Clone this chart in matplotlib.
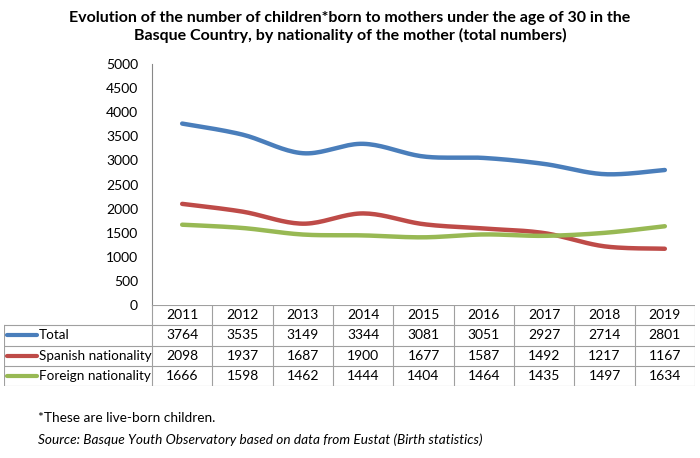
import numpy as np
import matplotlib.pyplot as plt

years = ['2011', '2012', '2013', '2014', '2015', '2016', '2017', '2018', '2019']
total = [3764, 3535, 3149, 3344, 3081, 3051, 2927, 2714, 2801]
spanish = [2098, 1937, 1687, 1900, 1677, 1587, 1492, 1217, 1167]
foreign = [1666, 1598, 1462, 1444, 1404, 1464, 1435, 1497, 1634]
series_names = ['Total', 'Spanish nationality', 'Foreign nationality']
colors = ['#4a7ebb', '#be4b48', '#98b954']

plt.rcParams['font.family'] = ['Lato', 'DejaVu Sans']

W, H = 700, 458


def smooth(x, y, n=20):
    # catmull-rom, like excel's smoothed lines
    x = np.asarray(x, float)
    y = np.asarray(y, float)
    px = np.concatenate([[x[0]], x, [x[-1]]])
    py = np.concatenate([[y[0]], y, [y[-1]]])
    xs, ys = [], []
    for i in range(1, len(px) - 2):
        t = np.linspace(0, 1, n, endpoint=False)
        for p, out in ((px, xs), (py, ys)):
            p0, p1, p2, p3 = p[i - 1], p[i], p[i + 1], p[i + 2]
            out.append(0.5 * (2 * p1 + (-p0 + p2) * t
                              + (2 * p0 - 5 * p1 + 4 * p2 - p3) * t ** 2
                              + (-p0 + 3 * p1 - 3 * p2 + p3) * t ** 3))
    xs.append([x[-1]])
    ys.append([y[-1]])
    return np.concatenate(xs), np.concatenate(ys)


fig = plt.figure(figsize=(7, 4.58), dpi=100)
ax = fig.add_axes([152 / W, (H - 305) / H, (695 - 152) / W, (305 - 64) / H])

x = np.arange(len(years))
for vals, c in zip([total, spanish, foreign], colors):
    sx, sy = smooth(x, vals)
    ax.plot(sx, sy, color=c, lw=3.2, solid_capstyle='round')

ax.set_xlim(-0.5, len(years) - 0.5)
ax.set_ylim(0, 5000)
ax.set_yticks(np.arange(0, 5001, 500))
ax.set_xticks([])
for s in ['top', 'right', 'bottom']:
    ax.spines[s].set_visible(False)
ax.spines['left'].set_color('#888888')
ax.tick_params(axis='y', length=0, labelsize=10, pad=10)

# data table under the chart
lab_w = (152 - 4) / ((695 - 152) / len(years))
tab = fig.add_axes([4 / W, (H - 386) / H, (695 - 4) / W, (386 - 305) / H])
tab.set_xlim(-0.5 - lab_w, len(years) - 0.5)
tab.set_ylim(4, 0)
tab.axis('off')
gc = '#a0a0a0'
tab.plot([-0.5, len(years) - 0.5], [0, 0], color=gc, lw=0.8)
for r in range(1, 5):
    tab.plot([-0.5 - lab_w, len(years) - 0.5], [r, r], color=gc, lw=0.8)
for i in range(len(years) + 1):
    tab.plot([i - 0.5, i - 0.5], [0, 4], color=gc, lw=0.8)
tab.plot([-0.5 - lab_w] * 2, [1, 4], color=gc, lw=0.8)
for i, yr in enumerate(years):
    tab.text(i, 0.5, yr, ha='center', va='center', fontsize=10)
for r, (name, vals, c) in enumerate(zip(series_names, [total, spanish, foreign], colors), start=1):
    for i, v in enumerate(vals):
        tab.text(i, r + 0.5, str(v), ha='center', va='center', fontsize=10)
    tab.plot([-0.5 - lab_w + 0.05, -0.5 - lab_w + 0.55], [r + 0.5, r + 0.5], color=c, lw=3, solid_capstyle='round')
    tab.text(-0.5 - lab_w + 0.58, r + 0.5, name, ha='left', va='center', fontsize=9.7)

fig.text(350 / W, 1 - 27 / H, 'Evolution of the number of children*born to mothers under the age of 30 in the\nBasque Country, by nationality of the mother (total numbers)',
         ha='center', va='center', fontsize=11.5, fontweight='bold', linespacing=1.3)
fig.text(38 / W, 1 - 418 / H, '*These are live-born children.', ha='left', va='center', fontsize=9.8)
fig.text(38 / W, 1 - 440 / H, 'Source: Basque Youth Observatory based on data from Eustat (Birth statistics)',
         ha='left', va='center', fontsize=9.8, style='italic')

fig.savefig('out.png', dpi=100)
